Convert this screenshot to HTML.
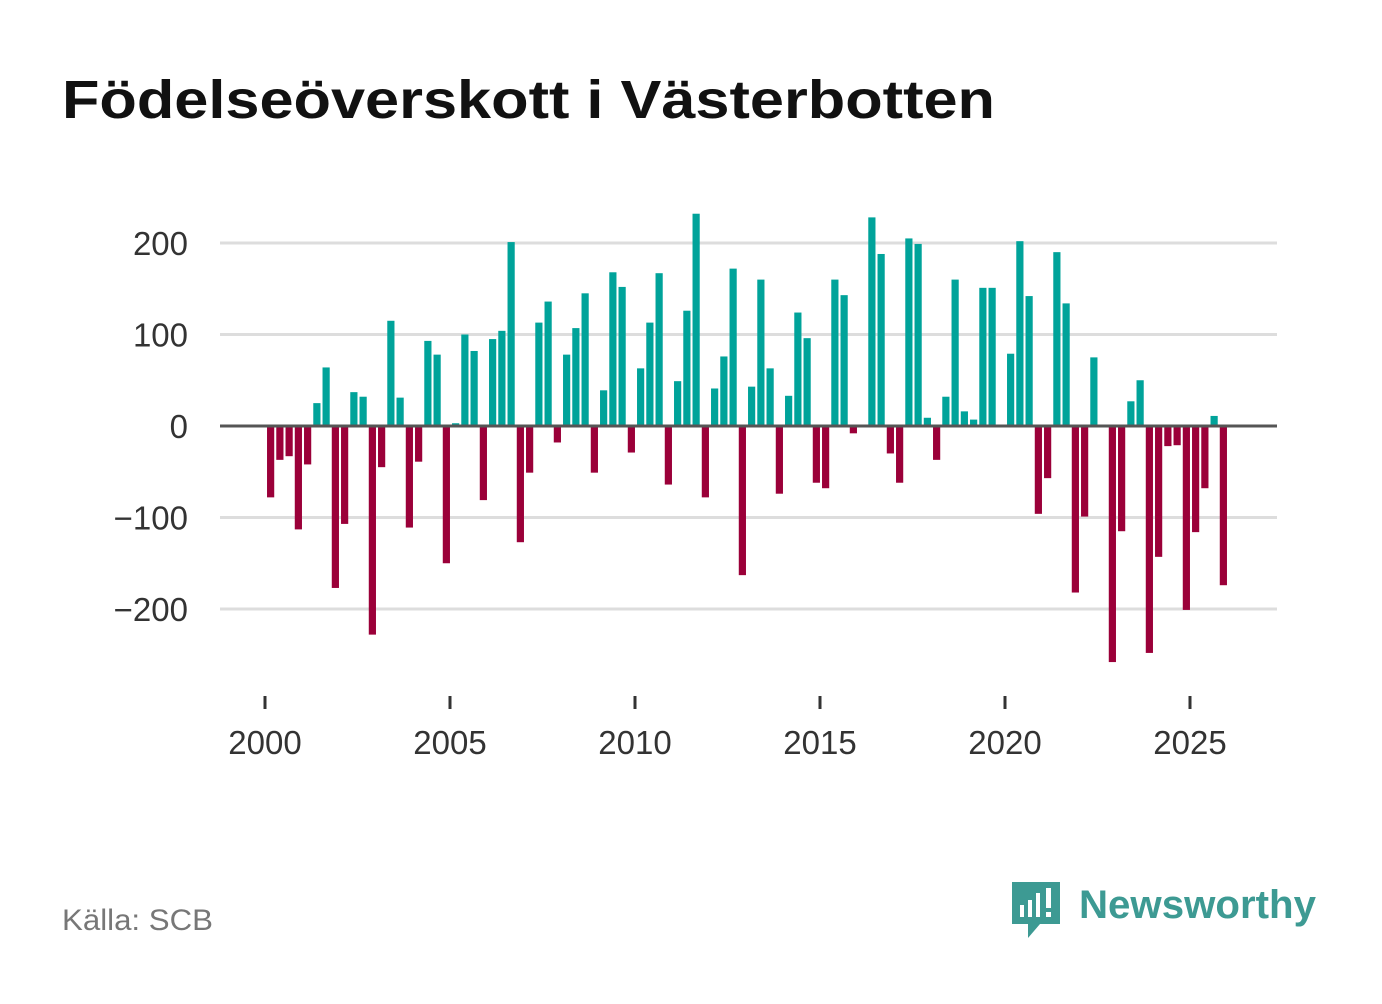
<!DOCTYPE html>
<html><head><meta charset="utf-8"><style>
body{margin:0;background:#fff;font-family:"Liberation Sans",sans-serif;}
</style></head><body>
<svg width="1382" height="999" viewBox="0 0 1382 999">
<text x="62" y="118" font-size="54" font-weight="bold" fill="#111" textLength="933" lengthAdjust="spacingAndGlyphs" font-family="Liberation Sans, sans-serif">Födelseöverskott i Västerbotten</text>
<g id="grid"></g><g id="bars"></g><g id="axis"></g>
<text x="62" y="930" font-size="30" fill="#777" textLength="151" lengthAdjust="spacingAndGlyphs">Källa: SCB</text>
<g>
<path d="M1012 882h48v42h-20l-12 14v-14h-16z" fill="#3d9a93"/>
<rect x="1020" y="905" width="4" height="12" fill="#fff"/><rect x="1028" y="900" width="4" height="17" fill="#fff"/><rect x="1036" y="893" width="4" height="24" fill="#fff"/><rect x="1046" y="888" width="5" height="20" fill="#fff"/><rect x="1046" y="912" width="5" height="5" fill="#fff"/>
<text x="1079" y="918" font-size="40" font-weight="bold" fill="#3d9a93" textLength="237" lengthAdjust="spacingAndGlyphs">Newsworthy</text>
</g>
</svg>
<script>
const years=[2000,2005,2010,2015,2020,2025];
const yTicks=[200,100,0,-100,-200];
const yTickLabels=["200","100","0","−100","−200"];
const values=[-78,-37,-33,-113,-42,25,64,-177,-107,37,32,-228,-45,115,31,-111,-39,93,78,-150,3,100,82,-81,95,104,201,-127,-51,113,136,-18,78,107,145,-51,39,168,152,-29,63,113,167,-64,49,126,232,-78,41,76,172,-163,43,160,63,-74,33,124,96,-62,-68,160,143,-8,0,228,188,-30,-62,205,199,9,-37,32,160,16,7,151,151,0,79,202,142,-96,-57,190,134,-182,-99,75,0,-258,-115,27,50,-248,-143,-22,-21,-201,-116,-68,11,-174];
const ns="http://www.w3.org/2000/svg";
const xS=t=>266+(t-2000)*37;
const yS=v=>426-v*0.915;
const grid=document.getElementById('grid'),bars=document.getElementById('bars'),axis=document.getElementById('axis');
function mk(tag,attrs,parent){const e=document.createElementNS(ns,tag);for(const k in attrs)e.setAttribute(k,attrs[k]);parent.appendChild(e);return e;}
yTicks.forEach((v,i)=>{
  if(v!==0){const l=mk('line',{x1:220,x2:1277,y1:yS(v),y2:yS(v),stroke:'#ddd','stroke-width':3},grid);
  
  }
  const t=mk('text',{x:188,y:yS(v)+12,'font-size':33,fill:'#333','text-anchor':'end'},axis);
  t.textContent=yTickLabels[i];
  
  
});
values.forEach((v,i)=>{
  const cx=xS(2000+i*0.25+0.125);
  const y0=yS(0),y1=yS(v);
  const r=mk('rect',{x:cx-3.6,width:7.2,y:Math.min(y0,y1),height:Math.abs(y1-y0),fill:v>=0?'#00a39a':'#9b0039'},bars);
  
  
});
const z=mk('line',{x1:220,x2:1277,y1:yS(0),y2:yS(0),stroke:'#555','stroke-width':3},axis);


years.forEach(y=>{
  const tk=mk('line',{x1:xS(y)-1,x2:xS(y)-1,y1:696,y2:709,stroke:'#333','stroke-width':3},axis);
  
  
  const t=mk('text',{x:xS(y)-1,y:754,'font-size':33,fill:'#333','text-anchor':'middle'},axis);
  t.textContent=y;
  
  
});
</script>
</body></html>
